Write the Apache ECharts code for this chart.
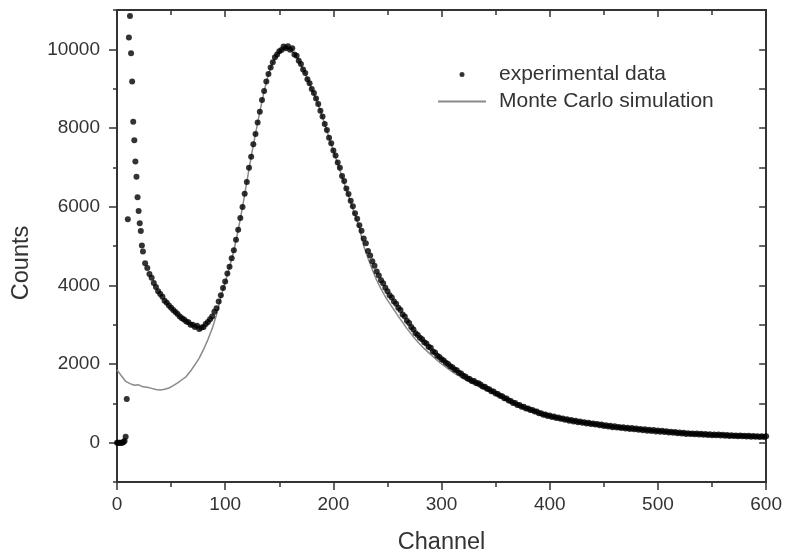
<!DOCTYPE html>
<html>
<head>
<meta charset="utf-8">
<script src="https://cdn.jsdelivr.net/npm/echarts@6/dist/echarts.min.js"></script>
<style>html,body{margin:0;padding:0;background:#fff}#c{width:785px;height:560px}</style>
</head>
<body>
<div id="c"></div>
<script>
const expChannel = [0,1,2,3,4,5,6,7,8,9,10,11,12,13,14,15,16,17,18,19,20,21,22,23,24,
26,28,30,32,34,36,38,40,42,44,46,48,50,52,54,56,58,60,62,64,66,68,70,72,74,76,78,80,82,84,86,88,90,92,94,96,98,100,
102,104,106,108,110,112,114,116,118,120,122,124,126,128,130,132,134,136,138,140,142,144,146,148,150,152,154,156,158,160,
162,164,166,168,170,172,174,176,178,180,182,184,186,188,190,192,194,196,198,200,202,204,206,208,210,212,214,216,218,220,
222,224,226,228,230,232,234,236,238,240,242,244,246,248,250,252,254,256,258,260,262,264,266,268,270,272,274,276,278,280,
282,284,286,288,290,292,294,296,298,300,302,304,306,308,310,312,314,316,318,320,322,324,326,328,330,332,334,336,338,340,
342,344,346,348,350,352,354,356,358,360,362,364,366,368,370,372,374,376,378,380,382,384,386,388,390,392,394,396,398,400,
402,404,406,408,410,412,414,416,418,420,422,424,426,428,430,432,434,436,438,440,442,444,446,448,450,452,454,456,458,460,
462,464,466,468,470,472,474,476,478,480,482,484,486,488,490,492,494,496,498,500,502,504,506,508,510,512,514,516,518,520,
522,524,526,528,530,532,534,536,538,540,542,544,546,548,550,552,554,556,558,560,562,564,566,568,570,572,574,576,578,580,
582,584,586,588,590,592,594,596,598,600];
const expCounts = [0,0,0,0,0,0,20,40,150,1110,5680,10300,10850,9900,9180,8160,7690,7150,6760,6240,5890,5580,5380,5010,4860,
4560,4440,4290,4190,4060,3960,3850,3780,3710,3610,3560,3490,3430,3370,3320,3270,3210,3160,3130,3080,3060,3000,3000,2940,2970,2890,2930,2940,3020,3070,3140,3210,3330,3420,3590,3750,3930,4100,
4300,4470,4690,4890,5160,5410,5710,5990,6330,6630,6990,7270,7590,7850,8140,8410,8710,8940,9180,9370,9540,9670,9800,9870,9950,9980,10070,10030,10080,9990,
10030,9870,9840,9710,9630,9490,9400,9240,9140,8990,8890,8750,8610,8440,8290,8100,7950,7750,7610,7430,7300,7120,6990,6780,6650,6460,6320,6150,6010,5830,
5690,5530,5390,5190,5070,4870,4760,4610,4500,4350,4250,4130,4050,3940,3850,3750,3690,3590,3530,3430,3370,3260,3210,3100,3040,2940,2880,2780,2740,2670,
2630,2550,2520,2440,2410,2320,2290,2210,2180,2120,2090,2030,2000,1940,1920,1860,1840,1780,1760,1700,1680,1630,1620,1570,1570,1520,1510,1480,1430,1420,
1370,1360,1310,1300,1250,1240,1190,1180,1130,1120,1070,1060,1010,1010,960,960,910,910,870,870,830,830,790,790,750,750,710,715,680,690,
655,665,630,640,605,615,585,595,560,575,540,555,520,540,505,520,490,505,475,490,460,475,440,460,425,445,410,430,395,415,
385,400,375,390,360,380,350,370,340,360,330,350,315,340,305,330,295,320,285,310,280,300,270,290,260,280,250,270,240,260,
230,250,222,242,218,236,212,230,206,225,200,220,196,214,190,210,186,205,180,200,176,195,172,190,168,185,164,180,160,177,
156,173,153,170,150,166,147,163,145,160];
const mcChannel = [0,4,8,12,16,20,24,28,32,36,40,44,48,52,56,60,64,68,72,76,80,84,88,92,96,100,
104,108,112,116,120,124,128,132,136,140,144,148,152,156,160,164,168,172,176,180,184,188,192,196,200,
204,208,212,216,220,224,228,232,236,240,244,248,252,256,260,264,268,272,276,280,284,288,292,296,300,
304,308,312,316,320,324,328,332,336,340,344,348,352,356,360,364,368,372,376,380,384,388,392,396,400,
404,408,412,416,420,424,428,432,436,440,444,448,452,456,460,464,468,472,476,480,484,488,492,496,500,
504,508,512,516,520,524,528,532,536,540,544,548,552,556,560,564,568,572,576,580,584,588,592,596,600];
const mcCounts = [1850,1700,1560,1500,1460,1470,1420,1410,1380,1350,1340,1360,1390,1450,1520,1600,1680,1820,1980,2150,2370,2620,2900,3250,3700,4080,
4460,4880,5400,5990,6630,7270,7850,8410,8940,9370,9670,9870,9980,10020,10000,9890,9720,9500,9250,8990,8740,8440,8100,7750,7420,
7100,6760,6430,6110,5790,5470,5000,4690,4400,4130,3910,3710,3540,3380,3210,3060,2900,2760,2620,2500,2390,2290,2190,2090,2000,
1920,1840,1760,1700,1630,1570,1510,1455,1400,1355,1320,1260,1210,1150,1090,1040,990,940,890,850,810,770,730,695,665,
640,615,595,575,555,535,518,500,485,470,455,437,422,408,395,383,372,362,352,342,332,320,310,300,292,
283,274,265,256,245,237,228,222,216,210,205,200,195,190,185,180,176,172,168,165,161,158,155,152,150];
const yMajorTicks = [0,2000,4000,6000,8000,10000];
const yMinorTicks = [-1000,1000,3000,5000,7000,9000,11000];
const seriesNames = ['experimental data','Monte Carlo simulation'];

const FONT = "'Liberation Sans', Arial, sans-serif";
const AX = '#333';
const chart = echarts.init(document.getElementById('c'));
const baseY = {min:-1000,max:11000,splitLine:{show:false}};
chart.setOption({
  animation:false,
  backgroundColor:'#fff',
  grid:{left:117,right:17,top:10,bottom:73.5},
  legend:{
    orient:'vertical',left:432,top:59,itemWidth:48,itemHeight:5,itemGap:6,
    textStyle:{fontFamily:FONT,fontSize:21,color:'#333',padding:[0,0,0,8]},
    data:[{name:seriesNames[0],icon:'circle'},{name:seriesNames[1],itemStyle:{opacity:0}}]
  },
  xAxis:[
    {type:'value',min:0,max:600,interval:100,position:'bottom',
     name:'Channel',nameLocation:'middle',nameGap:49,
     nameTextStyle:{fontFamily:FONT,fontSize:23.5,color:'#333'},
     axisLine:{show:true,onZero:false,lineStyle:{color:AX,width:2}},
     axisTick:{show:true,length:8,lineStyle:{color:AX,width:1.5}},
     minorTick:{show:true,splitNumber:2,length:5,lineStyle:{color:AX,width:1.5}},
     axisLabel:{fontFamily:FONT,fontSize:19,color:'#333',margin:13,formatter:v=>String(v)},
     splitLine:{show:false}},
    {type:'value',min:0,max:600,interval:100,position:'top',
     axisLine:{show:true,onZero:false,lineStyle:{color:AX,width:2}},
     axisTick:{show:true,inside:true,length:7,lineStyle:{color:AX,width:1.5}},
     minorTick:{show:true,splitNumber:2,length:5,lineStyle:{color:AX,width:1.5}},
     axisLabel:{show:false},splitLine:{show:false}}
  ],
  yAxis:[
    Object.assign({type:'value',position:'left',
     name:'Counts',nameLocation:'middle',nameGap:83,
     nameTextStyle:{fontFamily:FONT,fontSize:23.5,color:'#333',padding:[0,34,0,0]},
     axisLine:{show:true,onZero:false,lineStyle:{color:AX,width:2}},
     axisTick:{show:true,length:8,customValues:yMajorTicks,lineStyle:{color:AX,width:1.5}},
     axisLabel:{fontFamily:FONT,fontSize:19,color:'#333',margin:17,customValues:yMajorTicks,formatter:v=>String(v)}},baseY),
    Object.assign({type:'value',position:'left',
     axisLine:{show:false},
     axisTick:{show:true,length:4,customValues:yMinorTicks,lineStyle:{color:AX,width:1.5}},
     axisLabel:{show:false}},baseY),
    Object.assign({type:'value',position:'right',interval:1000,
     axisLine:{show:true,onZero:false,lineStyle:{color:AX,width:2}},
     axisTick:{show:true,inside:true,length:7,lineStyle:{color:AX,width:1.5}},
     axisLabel:{show:false}},baseY)
  ],
  series:[
    {name:seriesNames[1],type:'line',xAxisIndex:0,yAxisIndex:0,
     data:mcChannel.map((c,i)=>[c,mcCounts[i]]),
     showSymbol:false,symbol:'none',lineStyle:{color:'#8a8a8a',width:1.5},itemStyle:{color:'#8a8a8a'},z:2},
    {name:seriesNames[0],type:'scatter',xAxisIndex:0,yAxisIndex:0,
     data:expChannel.map((c,i)=>[c,expCounts[i]]),
     symbol:'circle',symbolSize:6,itemStyle:{color:'#000'},z:3}
  ]
});
</script>
</body>
</html>
